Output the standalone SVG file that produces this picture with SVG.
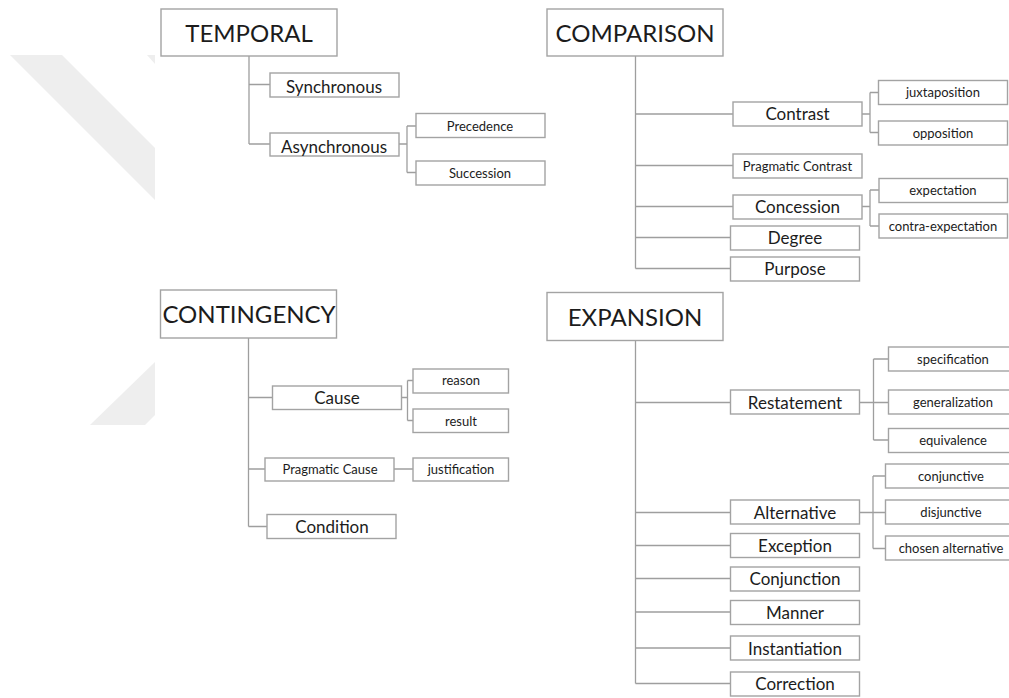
<svg xmlns="http://www.w3.org/2000/svg" width="1009" height="698" viewBox="0 0 1009 698">
<style>
.bx{fill:#fff;stroke:#a3a3a3;stroke-width:1.4}
.c{fill:none;stroke:#9e9e9e;stroke-width:1.3}
text{font-family:Lato,"Noto Sans","Liberation Sans",sans-serif;fill:#1c1c1c;text-anchor:middle}
.t1{font-size:24px}
.t2{font-size:17px}
.t3{font-size:13px}
.wm{fill:#eeeeee}
</style>
<rect width="1009" height="698" fill="#fff"/>
<g id="watermark">
<polygon class="wm" points="10,55 62,55 155,148 155,200"/>
<polygon class="wm" points="147,55 155,55 155,64"/>
<polygon class="wm" points="90,425 155,362 155,415 145,425"/>
</g>
<g id="connectors">
<path class="c" d="M249 56V144M249 84.5H270M249 144H270M399 144H407M407 126V172.5M407 126H416M407 172.5H416"/>
<path class="c" d="M635.5 56V268.5M635.5 114H733M635.5 165.5H733M635.5 206.5H733M635.5 237.5H730.5M635.5 268.5H730.5M862 114H870M870 92.5V132.5M870 92.5H878.5M870 132.5H878.5M862 206.5H870M870 190V226M870 190H879M870 226H879"/>
<path class="c" d="M248.5 338V526.5M248.5 397.5H272.5M248.5 469H265M248.5 526.5H267M401.5 397.5H407.5M407.5 380.5V420.5M407.5 380.5H413M407.5 420.5H413M394 469H413"/>
<path class="c" d="M635.5 340.5V683.5M635.5 402.5H730.5M635.5 512.5H730.5M635.5 545.5H730.5M635.5 578.5H730.5M635.5 612H730.5M635.5 648H730.5M635.5 683.5H730.5M859.5 402.5H888.5M873.5 359V440M873.5 359H888.5M873.5 440H888.5M859.5 512.5H885.5M873 476V548.5M873 476H885.5M873 548.5H885.5"/>
</g>
<g id="temporal"><rect class="bx" x="161" y="9" width="176" height="47"/><text class="t1" x="249" y="42">TEMPORAL</text></g>
<g id="synchronous"><rect class="bx" x="270" y="73" width="129" height="24"/><text class="t2" x="334" y="93">Synchronous</text></g>
<g id="asynchronous"><rect class="bx" x="270" y="133" width="129" height="23"/><text class="t2" x="334" y="152.5">Asynchronous</text></g>
<g id="precedence"><rect class="bx" x="416" y="113.5" width="129" height="24"/><text class="t3" x="480" y="130.5">Precedence</text></g>
<g id="succession"><rect class="bx" x="416" y="161" width="129" height="24"/><text class="t3" x="480" y="178">Succession</text></g>

<g id="comparison"><rect class="bx" x="547" y="9" width="176" height="47"/><text class="t1" x="635" y="42">COMPARISON</text></g>
<g id="contrast"><rect class="bx" x="733" y="102" width="129" height="24"/><text class="t2" x="797.5" y="120">Contrast</text></g>
<g id="juxtaposition"><rect class="bx" x="878.5" y="80.5" width="129" height="24"/><text class="t3" x="943" y="97">juxtaposition</text></g>
<g id="opposition"><rect class="bx" x="878.5" y="121" width="129" height="24"/><text class="t3" x="943" y="137.5">opposition</text></g>
<g id="pragmatic-contrast"><rect class="bx" x="733" y="154" width="129" height="24"/><text class="t3" x="797.5" y="170.5">Pragmatic Contrast</text></g>
<g id="concession"><rect class="bx" x="733" y="195" width="129" height="24"/><text class="t2" x="797.5" y="213">Concession</text></g>
<g id="expectation"><rect class="bx" x="879" y="178.5" width="128.5" height="24"/><text class="t3" x="943" y="195">expectation</text></g>
<g id="contra-expectation"><rect class="bx" x="879" y="214" width="128.5" height="24"/><text class="t3" x="943" y="231">contra-expectation</text></g>
<g id="degree"><rect class="bx" x="730.5" y="226" width="129" height="24"/><text class="t2" x="795" y="244">Degree</text></g>
<g id="purpose"><rect class="bx" x="730.5" y="257" width="129" height="24"/><text class="t2" x="795" y="275">Purpose</text></g>

<g id="contingency"><rect class="bx" x="160.5" y="290" width="176" height="48"/><text class="t1" x="249" y="323">CONTINGENCY</text></g>
<g id="cause"><rect class="bx" x="272.5" y="386" width="129" height="23.5"/><text class="t2" x="337" y="404">Cause</text></g>
<g id="reason"><rect class="bx" x="413" y="369" width="95.5" height="24"/><text class="t3" x="461" y="385">reason</text></g>
<g id="result"><rect class="bx" x="413" y="409" width="95.5" height="23.5"/><text class="t3" x="461" y="425.5">result</text></g>
<g id="pragmatic-cause"><rect class="bx" x="265" y="458" width="129" height="23"/><text class="t3" x="330" y="474">Pragmatic Cause</text></g>
<g id="justification"><rect class="bx" x="413" y="458" width="95.5" height="23"/><text class="t3" x="461" y="474">justification</text></g>
<g id="condition"><rect class="bx" x="267" y="514.5" width="129" height="24"/><text class="t2" x="332" y="533">Condition</text></g>

<g id="expansion"><rect class="bx" x="547" y="292.5" width="176" height="48"/><text class="t1" x="635" y="326">EXPANSION</text></g>
<g id="restatement"><rect class="bx" x="730.5" y="390" width="129" height="24"/><text class="t2" x="795" y="409">Restatement</text></g>
<g id="specification"><rect class="bx" x="888.5" y="347" width="130" height="24"/><text class="t3" x="953" y="364">specification</text></g>
<g id="generalization"><rect class="bx" x="888.5" y="390" width="130" height="24"/><text class="t3" x="953" y="407">generalization</text></g>
<g id="equivalence"><rect class="bx" x="888.5" y="428.5" width="130" height="24"/><text class="t3" x="953" y="445">equivalence</text></g>
<g id="alternative"><rect class="bx" x="730.5" y="500" width="129" height="24"/><text class="t2" x="795" y="518.5">Alternative</text></g>
<g id="conjunctive"><rect class="bx" x="885.5" y="464" width="130" height="24"/><text class="t3" x="951" y="481">conjunctive</text></g>
<g id="disjunctive"><rect class="bx" x="885.5" y="500" width="130" height="24"/><text class="t3" x="951" y="517">disjunctive</text></g>
<g id="chosen-alternative"><rect class="bx" x="885.5" y="536" width="130" height="24"/><text class="t3" x="951" y="552.5">chosen alternative</text></g>
<g id="exception"><rect class="bx" x="730.5" y="533.5" width="129" height="24"/><text class="t2" x="795" y="552">Exception</text></g>
<g id="conjunction"><rect class="bx" x="730.5" y="567" width="129" height="24"/><text class="t2" x="795" y="585">Conjunction</text></g>
<g id="manner"><rect class="bx" x="730.5" y="600.5" width="129" height="24"/><text class="t2" x="795" y="619">Manner</text></g>
<g id="instantiation"><rect class="bx" x="730.5" y="636" width="129" height="24"/><text class="t2" x="795" y="655">Instantiation</text></g>
<g id="correction"><rect class="bx" x="730.5" y="672" width="129" height="24"/><text class="t2" x="795" y="690">Correction</text></g>
</svg>
